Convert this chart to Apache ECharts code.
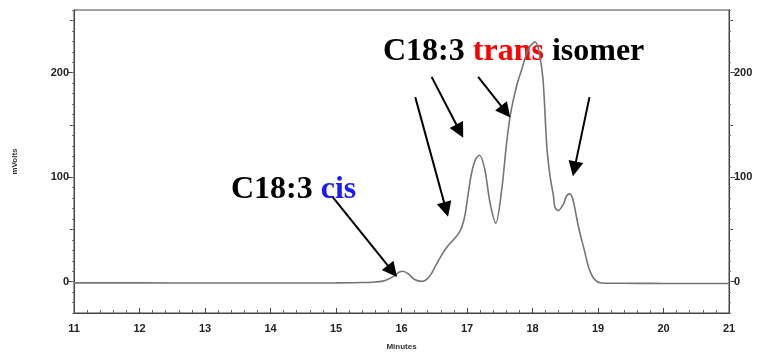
<!DOCTYPE html>
<html><head><meta charset="utf-8">
<script src="https://cdn.jsdelivr.net/npm/echarts@6/dist/echarts.min.js"></script>
<style>html,body{margin:0;padding:0;background:#fff}#c{width:758px;height:352px}</style>
</head><body><div id="c"></div>
<script>
// Chromatogram trace (minutes, mVolts)
const minutes = [11, 12, 13, 14, 15, 15.4, 15.55, 15.72, 15.82, 15.9, 15.96, 16.02, 16.1, 16.2, 16.31, 16.38, 16.45, 16.52, 16.59, 16.66, 16.72, 16.77, 16.82, 16.87, 16.92, 16.97, 17.02, 17.07, 17.13, 17.19, 17.27, 17.35, 17.44, 17.53, 17.6, 17.66, 17.76, 17.84, 17.94, 18.04, 18.1, 18.16, 18.22, 18.27, 18.32, 18.34, 18.39, 18.47, 18.52, 18.57, 18.61, 18.65, 18.7, 18.75, 18.8, 18.85, 18.9, 18.95, 19.03, 19.2, 19.6, 20, 20.5, 21];
const mVolts  = [-1.2, -1.2, -1.3, -1.3, -1.2, -0.8, -0.5, 0.5, 3, 6, 9, 10, 7.7, 2, 0.3, 2, 7, 15, 23, 30, 35, 38.5, 42, 46, 52, 64, 85, 104, 117, 121, 108, 76, 56, 88, 130, 159, 188, 204, 223, 229.5, 220, 194, 128, 100, 82, 72, 68, 74, 82, 84, 80, 69, 53, 40, 28, 15, 7, 2, -1, -1.5, -1.6, -1.7, -1.8, -1.8];
const xTickLabels = [11, 12, 13, 14, 15, 16, 17, 18, 19, 20, 21];
const yTickLabels = [0, 100, 200];
const yMidTicks = [50, 150, 250];
// Annotation arrows: [start minutes, start mVolts, end minutes, end mVolts]
const arrows = [
  [14.95, 81, 15.86, 10],
  [16.21, 176.6, 16.68, 69],
  [16.46, 196, 16.89, 144],
  [17.17, 196, 17.59, 162.7],
  [18.87, 176.6, 18.64, 107.9]
];

const traceData = minutes.map((t, i) => [t, mVolts[i]]);
const axisColor = '#444';
const labelFont = {fontFamily: 'Liberation Sans, Arial, sans-serif', fontSize: 11, fontWeight: 'bold', color: '#222'};

function yAx(pos, kind) {
  const a = {
    type: 'value', min: -30, max: 260, position: pos, offset: 0,
    axisLine: {show: true, lineStyle: {color: axisColor, width: 1}},
    splitLine: {show: false},
    axisLabel: {show: false}
  };
  if (kind === 'main') {
    a.axisTick = {show: true, length: 6, inside: false, lineStyle: {color: axisColor}, customValues: yTickLabels};
    a.axisLabel = Object.assign({show: true, customValues: yTickLabels, margin: 5}, labelFont);
  } else if (kind === 'mid') {
    a.axisTick = {show: true, length: 4, inside: false, lineStyle: {color: axisColor}, customValues: yMidTicks};
  } else {
    a.interval = 10;
    a.axisTick = {show: true, length: 2, inside: false, lineStyle: {color: '#777'}};
  }
  return a;
}
const yAxes = [yAx('left', 'main'), yAx('left', 'mid'), yAx('left', 'small'), yAx('right', 'main'), yAx('right', 'mid'), yAx('right', 'small')];
yAxes[0].name = 'mVolts';
yAxes[0].nameLocation = 'middle';
yAxes[0].nameGap = 55;
yAxes[0].nameTextStyle = {fontFamily: 'Liberation Sans, Arial, sans-serif', fontSize: 8, fontWeight: 'bold', color: '#333'};

const serif = 'Liberation Serif, Times New Roman, serif';
const chart = echarts.init(document.getElementById('c'), null, {renderer: 'canvas'});
chart.setOption({
  animation: false,
  backgroundColor: '#fff',
  grid: {left: 74, right: 29, top: 10, bottom: 39, containLabel: false, outerBoundsMode: 'none', show: true, borderColor: axisColor, borderWidth: 1},
  xAxis: {
    type: 'value', min: 11, max: 21, interval: 1,
    name: 'Minutes', nameLocation: 'middle', nameGap: 30,
    nameTextStyle: {fontFamily: 'Liberation Sans, Arial, sans-serif', fontSize: 8, fontWeight: 'bold', color: '#333'},
    axisLine: {show: true, onZero: false, lineStyle: {color: axisColor}},
    axisTick: {show: true, inside: true, length: 5, lineStyle: {color: axisColor}},
    minorTick: {show: true, splitNumber: 5, length: 3, lineStyle: {color: '#666'}},
    splitLine: {show: false},
    axisLabel: Object.assign({margin: 10, formatter: v => xTickLabels.includes(v) ? String(v) : ''}, labelFont)
  },
  yAxis: yAxes,
  series: [
    {
      type: 'line', data: traceData, yAxisIndex: 0, smooth: 0.3, showSymbol: false,
      lineStyle: {color: '#757575', width: 1.6}
    },
    {
      type: 'line', data: [], yAxisIndex: 0,
      markLine: {
        silent: true, animation: false,
        symbol: ['none', 'triangle'], symbolSize: 15,
        lineStyle: {color: '#000', width: 2, type: 'solid'},
        label: {show: false},
        data: arrows.map(a => [{coord: [a[0], a[1]]}, {coord: [a[2], a[3]]}])
      }
    }
  ],
  graphic: [
    {
      type: 'text', left: 383, top: 36,
      style: {
        text: '{k|C18:3 }{r|trans}{k| isomer}',
        rich: {
          k: {fontFamily: serif, fontSize: 32, fontWeight: 'bold', fill: '#000'},
          r: {fontFamily: serif, fontSize: 32, fontWeight: 'bold', fill: '#ff0000'}
        }
      }
    },
    {
      type: 'text', left: 231, top: 174,
      style: {
        text: '{k|C18:3 }{b|cis}',
        rich: {
          k: {fontFamily: serif, fontSize: 32, fontWeight: 'bold', fill: '#000'},
          b: {fontFamily: serif, fontSize: 32, fontWeight: 'bold', fill: '#1a1aff'}
        }
      }
    }
  ]
});
</script></body></html>
